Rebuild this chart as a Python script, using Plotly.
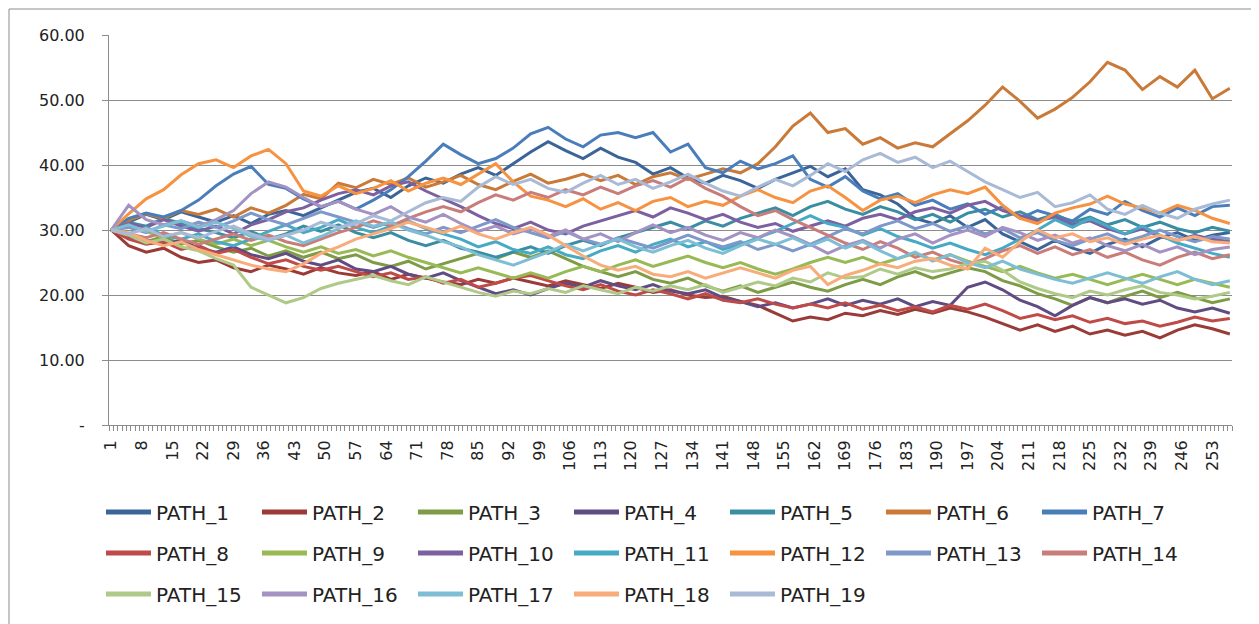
import plotly.graph_objects as go

sample_days = [1, 5, 9, 13, 17, 21, 25, 29, 33, 37, 41, 45, 49, 53, 57, 61, 65, 69, 73, 77,
               81, 85, 89, 93, 97, 101, 105, 109, 113, 117, 121, 125, 129, 133, 137, 141, 145,
               149, 153, 157, 161, 165, 169, 173, 177, 181, 185, 189, 193, 197, 201, 205, 209,
               213, 217, 221, 225, 229, 233, 237, 241, 245, 249, 253, 257]

path_1 = [30.0, 31.2, 32.4, 31.6, 32.8, 32.0, 31.2, 32.2, 31.0, 32.4, 33.0, 32.2, 33.4, 34.6, 35.8,
          36.4, 35.0, 36.8, 38.0, 37.2, 38.6, 39.6, 38.4, 40.2, 42.0, 43.6, 42.2, 41.0, 42.6, 41.2,
          40.4, 38.6, 39.6, 38.0, 37.2, 38.4, 37.6, 36.4, 37.8, 38.8, 39.8, 38.2, 39.4, 36.2, 35.4,
          34.0, 31.8, 31.0, 32.2, 30.4, 31.6, 29.4, 28.2, 27.0, 28.4, 27.2, 26.4, 27.8, 28.6, 27.4,
          28.8, 29.6, 28.4, 29.2, 29.6]
path_2 = [30.0, 27.6, 26.6, 27.2, 25.8, 25.0, 25.4, 24.2, 23.6, 24.6, 24.0, 23.2, 24.2, 23.4, 23.0,
          23.6, 22.4, 23.2, 22.6, 22.0, 21.6, 22.4, 21.8, 22.6, 22.0, 21.4, 22.2, 21.6, 21.0, 21.8,
          21.2, 20.4, 20.8, 20.0, 19.6, 19.8, 19.0, 18.4, 17.2, 16.0, 16.6, 16.2, 17.2, 16.8, 17.6,
          17.0, 17.8, 17.2, 18.0, 17.4, 16.6, 15.6, 14.6, 15.4, 14.4, 15.2, 14.0, 14.6, 13.8, 14.4,
          13.4, 14.6, 15.4, 14.8, 14.0]
path_3 = [30.0, 29.2, 28.2, 29.0, 27.8, 28.4, 27.4, 26.6, 27.2, 26.0, 26.8, 25.8, 26.6, 25.6, 26.2,
          25.0, 24.4, 25.2, 24.0, 24.8, 25.6, 26.4, 25.6, 26.6, 25.8, 26.8, 25.6, 24.4, 23.6, 22.8,
          23.6, 22.4, 21.8, 22.6, 21.4, 20.6, 21.4, 20.4, 21.2, 22.0, 21.2, 20.6, 21.6, 22.4, 21.6,
          22.8, 23.6, 22.6, 23.4, 24.2, 23.6, 22.2, 21.4, 20.2, 19.4, 18.4, 19.6, 18.8, 19.8, 20.6,
          19.6, 20.4, 19.6, 18.8, 19.4]
path_4 = [30.0, 29.0, 28.4, 27.8, 28.4, 27.2, 26.6, 27.4, 26.2, 25.6, 26.4, 25.2, 24.6, 25.4, 24.0,
          23.6, 24.4, 23.2, 22.6, 23.4, 22.2, 21.2, 20.2, 20.8, 20.0, 21.0, 21.8, 21.2, 22.2, 21.4,
          20.8, 21.6, 20.6, 20.2, 20.8, 19.6, 19.0, 18.2, 18.8, 18.0, 18.6, 19.4, 18.4, 19.2, 18.6,
          19.4, 18.2, 19.0, 18.4, 21.2, 22.0, 20.8, 19.2, 18.2, 16.8, 18.4, 19.6, 18.8, 19.4, 18.6,
          19.2, 18.0, 17.4, 18.0, 17.2]
path_5 = [30.0, 31.2, 30.6, 31.8, 31.0, 30.2, 29.6, 28.8, 29.8, 28.6, 29.4, 30.6, 29.8, 30.8, 29.6,
          28.8, 29.6, 28.4, 27.6, 28.4, 27.2, 26.6, 25.8, 26.6, 27.4, 26.4, 27.6, 28.4, 27.6, 28.8,
          29.6, 30.4, 31.2, 30.2, 31.4, 30.6, 31.8, 32.6, 33.4, 32.2, 33.6, 34.4, 33.2, 32.4, 33.6,
          32.8, 31.6, 32.4, 31.2, 32.6, 33.2, 32.0, 32.8, 31.6, 32.4, 31.2, 32.0, 30.8, 31.6, 30.4,
          31.2, 30.2, 29.6, 30.4, 29.8]
path_6 = [30.0, 31.5, 32.5, 31.8, 33.0, 32.4, 33.2, 32.0, 33.4, 32.6, 33.8, 35.5, 34.8, 37.2, 36.5,
          37.8, 37.0, 38.0, 36.6, 37.4, 38.4, 37.0, 36.2, 37.5, 38.6, 37.2, 37.8, 38.6, 37.6, 38.4,
          37.0, 38.2, 38.8, 37.8, 38.6, 39.4, 38.8, 40.2, 42.8, 46.0, 48.0, 45.0, 45.6, 43.2, 44.2,
          42.6, 43.4, 42.8, 44.8, 46.8, 49.2, 52.0, 49.8, 47.2, 48.6, 50.4, 52.8, 55.8, 54.6, 51.6,
          53.6, 52.0, 54.6, 50.2, 51.8]
path_7 = [30.0, 31.8, 32.6, 32.0, 33.0, 34.6, 36.8, 38.6, 39.8, 37.0, 36.4, 34.8, 33.6, 34.4, 33.2,
          34.6, 36.2, 38.2, 40.6, 43.2, 41.6, 40.2, 41.0, 42.6, 44.8, 45.8, 44.0, 42.8, 44.6, 45.0,
          44.2, 45.0, 42.0, 43.2, 39.6, 38.8, 40.6, 39.4, 40.2, 41.4, 37.8, 36.6, 38.2, 36.0, 34.8,
          35.6, 33.8, 34.6, 33.2, 34.0, 32.4, 33.6, 31.8, 33.0, 32.2, 31.4, 33.2, 32.4, 34.4, 33.0,
          32.0, 33.4, 32.2, 33.6, 33.8]
path_8 = [30.0, 28.6, 27.8, 28.2, 27.0, 27.6, 26.4, 27.0, 25.8, 24.8, 25.4, 24.4, 23.8, 24.4, 23.6,
          22.8, 23.4, 22.4, 22.8, 21.8, 22.4, 21.2, 21.8, 22.6, 23.0, 22.2, 21.4, 20.8, 21.6, 20.6,
          20.0, 20.8, 20.2, 19.4, 20.2, 19.2, 18.8, 19.4, 18.6, 18.0, 18.6, 18.0, 18.8, 17.8, 18.4,
          17.6, 18.2, 17.4, 18.4, 17.8, 18.6, 17.6, 16.4, 17.0, 16.2, 16.8, 15.8, 16.4, 15.6, 16.0,
          15.2, 15.8, 16.6, 16.0, 16.4]
path_9 = [30.0, 30.6, 29.8, 28.8, 29.6, 28.6, 27.8, 28.6, 27.6, 28.4, 27.4, 26.6, 27.4, 26.4, 27.0,
          26.0, 26.8, 25.8, 25.0, 24.2, 23.4, 24.2, 23.4, 22.6, 23.4, 22.6, 23.6, 24.4, 23.6, 24.6,
          25.4, 24.4, 25.2, 26.0, 25.0, 24.2, 25.0, 24.0, 23.2, 24.0, 25.0, 25.8, 25.0, 25.8, 24.8,
          25.6, 26.4, 25.4, 26.2, 25.2, 24.4, 23.6, 24.4, 23.4, 22.6, 23.2, 22.4, 21.6, 22.4, 23.2,
          22.4, 21.6, 22.4, 21.8, 21.2]
path_10 = [30.0, 31.0, 30.4, 31.6, 30.6, 29.8, 30.6, 29.4, 30.8, 31.6, 32.8, 33.4, 34.6, 35.6, 36.2,
           35.4, 36.8, 37.4, 36.0, 34.8, 33.6, 32.2, 31.0, 30.2, 31.2, 30.0, 29.4, 30.6, 31.4, 32.2,
           33.0, 32.0, 33.4, 32.6, 31.6, 32.4, 31.2, 30.4, 31.0, 29.8, 30.6, 31.4, 30.6, 31.8, 32.4,
           31.6, 32.8, 33.4, 32.6, 33.8, 34.4, 33.0, 32.2, 31.4, 32.0, 30.8, 31.4, 30.2, 29.4, 30.2,
           29.0, 28.4, 29.2, 28.6, 28.2]
path_11 = [30.0, 29.4, 30.4, 29.2, 28.6, 29.4, 28.2, 27.6, 28.6, 29.8, 30.8, 29.6, 30.4, 31.6, 30.4,
           29.6, 30.6, 31.4, 30.2, 29.4, 28.6, 27.4, 28.2, 27.0, 26.4, 27.4, 26.2, 25.6, 26.8, 27.6,
           26.6, 27.8, 28.6, 27.4, 28.2, 27.0, 27.8, 28.8, 29.8, 31.0, 32.2, 31.0, 30.4, 29.2, 30.2,
           29.0, 28.2, 27.2, 28.0, 27.0, 26.2, 27.2, 28.6, 30.0, 31.6, 30.4, 31.8, 30.6, 29.4, 30.6,
           29.2, 28.0, 27.2, 26.4, 25.8]
path_12 = [30.0, 32.5, 34.8, 36.2, 38.5, 40.2, 40.8, 39.6, 41.4, 42.4, 40.2, 36.0, 35.2, 36.8, 35.6,
           36.4, 37.6, 36.0, 37.2, 38.0, 37.0, 38.6, 40.2, 37.4, 35.2, 34.6, 33.6, 34.8, 33.2, 34.2,
           33.0, 34.4, 35.0, 33.6, 34.4, 33.8, 35.2, 36.2, 35.0, 34.2, 36.0, 36.8, 35.0, 33.0, 34.6,
           35.2, 34.2, 35.4, 36.2, 35.6, 36.6, 33.8, 31.8, 31.0, 32.6, 33.4, 34.0, 35.2, 34.0, 33.4,
           32.6, 33.8, 33.0, 31.8, 31.0]
path_13 = [30.0, 30.4, 29.6, 30.8, 30.2, 31.2, 30.4, 31.4, 32.6, 31.6, 30.8, 31.8, 32.8, 32.0, 31.2,
           30.4, 31.2, 30.2, 29.4, 30.4, 29.6, 30.6, 31.6, 30.4, 29.6, 28.8, 29.8, 28.6, 27.8, 28.8,
           28.0, 27.2, 28.2, 29.2, 28.2, 27.4, 28.2, 27.0, 27.8, 26.8, 27.8, 29.0, 30.2, 29.4, 30.6,
           31.4, 30.2, 31.0, 29.8, 30.6, 29.4, 30.2, 28.8, 29.6, 28.4, 27.6, 28.6, 29.4, 28.2, 29.0,
           30.0, 29.0, 28.2, 29.0, 28.6]
path_14 = [30.0, 29.4, 28.8, 29.6, 28.6, 27.8, 28.6, 29.4, 28.4, 29.2, 28.2, 27.6, 28.6, 29.6, 30.4,
           31.4, 30.6, 31.8, 32.8, 33.6, 32.8, 34.2, 35.4, 34.6, 35.8, 35.0, 36.2, 35.4, 36.6, 35.6,
           36.8, 37.6, 36.6, 38.0, 36.4, 35.2, 33.6, 32.2, 33.0, 31.6, 30.4, 29.2, 28.0, 27.0, 28.2,
           27.2, 25.8, 26.6, 25.4, 24.6, 25.6, 26.8, 27.6, 26.4, 27.4, 26.2, 27.0, 25.8, 26.6, 25.4,
           24.6, 25.8, 26.6, 25.6, 26.2]
path_15 = [30.0, 29.2, 28.0, 28.6, 27.4, 26.8, 25.6, 24.6, 21.2, 20.0, 18.8, 19.6, 21.0, 21.8, 22.4,
           23.0, 22.2, 21.6, 22.8, 22.0, 21.2, 20.4, 19.8, 20.6, 20.2, 21.0, 20.4, 21.4, 20.8, 20.2,
           21.2, 20.6, 21.4, 20.8, 21.6, 20.4, 21.2, 22.0, 21.4, 22.6, 22.0, 23.4, 22.6, 22.8, 24.0,
           23.2, 24.2, 23.6, 24.0, 24.8, 25.2, 23.8, 22.0, 21.0, 20.2, 19.6, 20.6, 20.0, 20.8, 21.4,
           20.4, 20.0, 19.4, 19.8, 20.4]
path_16 = [30.0, 33.8, 31.6, 30.8, 31.4, 30.6, 31.6, 33.0, 35.6, 37.4, 36.6, 35.0, 33.6, 34.4, 33.2,
           32.4, 33.6, 32.0, 31.2, 32.4, 31.0, 29.8, 30.6, 29.4, 30.2, 29.0, 30.0, 28.6, 29.4, 28.2,
           29.6, 30.8, 29.6, 30.4, 29.2, 28.4, 29.6, 28.8, 30.0, 29.0, 27.8, 26.4, 27.6, 28.4, 27.2,
           28.6, 29.4, 28.0, 29.2, 30.0, 29.0, 30.4, 29.6, 28.4, 29.2, 28.0, 28.8, 27.6, 26.8, 27.8,
           26.6, 27.4, 26.2, 27.0, 27.4]
path_17 = [30.0, 30.8, 29.8, 30.6, 31.4, 30.4, 31.2, 30.2, 29.0, 28.4, 29.2, 28.0, 29.0, 30.2, 31.4,
           30.6, 31.2, 30.0, 29.2, 28.2, 27.4, 26.2, 25.4, 24.6, 25.6, 26.6, 27.8, 26.8, 27.8, 28.6,
           27.4, 26.6, 27.6, 28.4, 27.2, 26.4, 27.6, 28.6, 27.8, 28.8, 27.6, 28.6, 27.2, 28.2, 26.8,
           25.6, 26.6, 25.2, 26.2, 25.0, 24.2, 25.2, 24.0, 23.2, 22.4, 21.8, 22.6, 23.4, 22.6, 21.8,
           22.8, 23.6, 22.4, 21.6, 22.2]
path_18 = [30.0, 29.6, 28.4, 27.6, 28.2, 27.0, 26.2, 25.4, 24.6, 24.0, 23.6, 24.8, 26.4, 27.4, 28.6,
           29.4, 30.2, 31.2, 30.4, 29.6, 30.6, 29.4, 28.6, 29.6, 30.4, 29.2, 27.6, 26.0, 24.6, 23.8,
           24.4, 23.2, 22.8, 23.6, 22.6, 23.4, 24.2, 23.4, 22.6, 23.8, 24.4, 21.6, 23.0, 23.8, 24.8,
           24.2, 25.2, 25.6, 24.6, 24.0, 27.2, 25.8, 28.2, 30.0, 28.8, 29.4, 28.2, 28.8, 27.8, 28.6,
           29.2, 28.4, 29.0, 28.2, 28.0]
path_19 = [30.0, 29.4, 30.2, 29.0, 29.6, 28.8, 29.8, 30.6, 29.4, 28.6, 29.2, 30.0, 31.2, 30.4, 31.0,
           32.2, 31.4, 32.8, 34.2, 35.0, 34.4, 36.6, 38.2, 37.0, 37.8, 36.4, 35.8, 37.2, 38.4, 37.0,
           37.8, 36.4, 37.4, 38.6, 37.2, 36.0, 35.2, 36.6, 37.8, 36.8, 38.4, 40.2, 39.0, 40.8, 41.8,
           40.4, 41.2, 39.6, 40.6, 39.0, 37.4, 36.2, 35.0, 35.8, 33.6, 34.2, 35.4, 33.2, 32.4, 33.8,
           32.6, 31.8, 33.2, 34.0, 34.6]

series_names = ["PATH_%d" % i for i in range(1, 20)]
series_values = [path_1, path_2, path_3, path_4, path_5, path_6, path_7, path_8, path_9, path_10,
                 path_11, path_12, path_13, path_14, path_15, path_16, path_17, path_18, path_19]
series_colors = ["#3B6598", "#9A3B38", "#7E9C45", "#604C83", "#3B8EA1", "#C97A38", "#4A7EBB",
                 "#BE4B48", "#98B954", "#7D60A0", "#46AAC5", "#F69240", "#7E98CA", "#C97D7B",
                 "#AFCA88", "#A392C2", "#7DBED5", "#F8AC7A", "#A9BAD6"]

n_days = 257
x_tick_vals = [1, 8, 15, 22, 29, 36, 43, 50, 57, 64, 71, 78, 85, 92, 99, 106, 113, 120, 127, 134,
               141, 148, 155, 162, 169, 176, 183, 190, 197, 204, 211, 218, 225, 232, 239, 246, 253]
x_tick_text = [str(v) for v in x_tick_vals]
y_tick_vals = [0, 10, 20, 30, 40, 50, 60]
y_tick_text = ["-", "10.00", "20.00", "30.00", "40.00", "50.00", "60.00"]

# ---------------- figure ----------------
# the page body adds an 8 px margin, so the figure is 8 px smaller and everything is offset by 8
OFF = 8
W, H = 1259 - OFF, 624 - OFF
L, R, T, B = 109 - OFF, 1232 - OFF, 35 - OFF, 425 - OFF
pw, ph = R - L, B - T
FONT = "DejaVu Sans"
TXT = "#222222"


def px_to_paper_x(px):
    return (px - OFF - L) / pw


def px_to_paper_y(py):
    return (B - (py - OFF)) / ph


fig = go.Figure()
legend_rows = ["legend", "legend2", "legend3"]
for i, (name, vals, col) in enumerate(zip(series_names, series_values, series_colors)):
    leg = legend_rows[i // 7]
    fig.add_trace(go.Scatter(
        x=sample_days, y=vals, name=name, mode="lines",
        line=dict(color=col, width=3),
        legend=leg, legendgroup=name, showlegend=False,
        hoverinfo="x+y+name",
    ))
    # legend entry (thicker swatch, as in the reference legend)
    fig.add_trace(go.Scatter(
        x=[None], y=[None], name=name, mode="lines",
        line=dict(color=col, width=5),
        legend=leg, legendgroup=name, showlegend=True, hoverinfo="skip",
    ))

legend_common = dict(
    orientation="h", xanchor="left", yanchor="middle",
    font=dict(family=FONT, size=20, color=TXT),
    entrywidth=96, entrywidthmode="pixels", itemwidth=45,
    bgcolor="rgba(0,0,0,0)", borderwidth=0, traceorder="normal", tracegroupgap=0,
)
leg_x = px_to_paper_x(101)

fig.update_layout(
    width=W, height=H,
    margin=dict(l=L, r=W - R, t=T, b=H - B, pad=0, autoexpand=False),
    paper_bgcolor="white", plot_bgcolor="white",
    font=dict(family=FONT, size=16, color=TXT),
    showlegend=True,
    legend=dict(legend_common, x=leg_x, y=px_to_paper_y(512)),
    legend2=dict(legend_common, x=leg_x, y=px_to_paper_y(553)),
    legend3=dict(legend_common, x=leg_x, y=px_to_paper_y(594)),
    xaxis=dict(
        range=[0.5, n_days + 0.5], tickmode="array", tickvals=x_tick_vals, ticktext=x_tick_text,
        tickangle=-90, ticks="", showgrid=False, zeroline=False,
        showline=True, linecolor="#8C8C8C", linewidth=1,
        tickfont=dict(family=FONT, size=16, color=TXT), ticklabelstandoff=8,
        minor=dict(tickmode="linear", tick0=0.5, dtick=1, ticks="outside", ticklen=5,
                   tickcolor="#8C8C8C", tickwidth=1, showgrid=False),
    ),
    yaxis=dict(
        range=[0, 60], tickmode="array", tickvals=y_tick_vals, ticktext=y_tick_text,
        ticks="outside", ticklen=6, tickcolor="#8C8C8C", showgrid=True, gridcolor="#8C8C8C",
        gridwidth=1, zeroline=False, showline=True, linecolor="#8C8C8C", linewidth=1,
        tickfont=dict(family=FONT, size=16, color=TXT), ticklabelstandoff=14,
    ),
    shapes=[dict(type="rect", xref="paper", yref="paper",
                 x0=px_to_paper_x(9), x1=px_to_paper_x(1255),
                 y0=px_to_paper_y(640), y1=px_to_paper_y(9),
                 line=dict(color="#8C8C8C", width=1), fillcolor="rgba(0,0,0,0)", layer="below")],
)

fig.write_html("out.html")
